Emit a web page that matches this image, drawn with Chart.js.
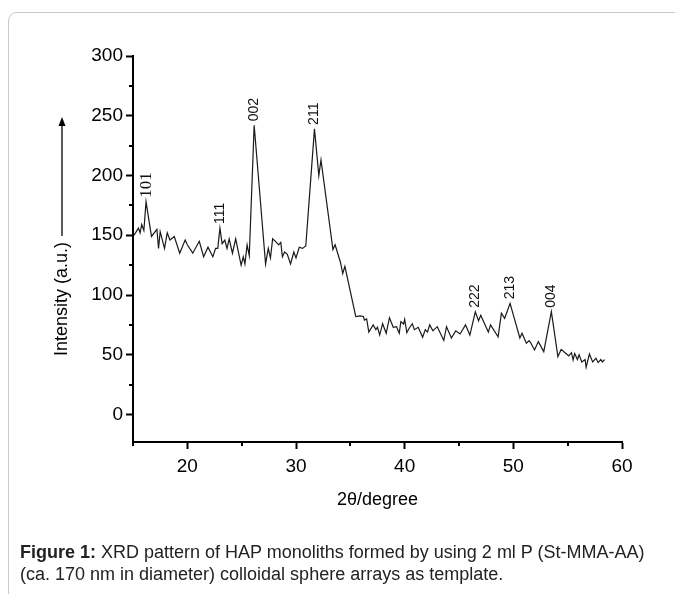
<!DOCTYPE html>
<html>
<head>
<meta charset="utf-8">
<script src="https://cdn.jsdelivr.net/npm/chart.js@4.4.1/dist/chart.umd.min.js"></script>
<style>
  html, body { margin: 0; padding: 0; background: #fff; }
  body { width: 675px; height: 594px; position: relative; overflow: hidden; }
  .frame {
    position: absolute; left: 8px; top: 12px; width: 720px; height: 640px;
    border: 1px solid #c9c9c9; border-radius: 9px;
  }
  #xrd { position: absolute; left: 0; top: 0; }
  .caption {
    position: absolute; left: 20px; top: 541px;
    font: 18px "Liberation Sans", Arial, sans-serif; line-height: 22px; color: #222;
    white-space: nowrap;
  }
</style>
</head>
<body>
<div class="frame"></div>
<canvas id="xrd" width="675" height="594"></canvas>
<div class="caption"><b>Figure 1:</b> XRD pattern of HAP monoliths formed by using 2 ml P (St-MMA-AA)<br>(ca. 170 nm in diameter) colloidal sphere arrays as template.</div>
<script>
// 2theta (degree) and intensity (a.u.)
const twoTheta = [
  15.1, 15.3, 15.5, 15.65, 15.8, 16.0, 16.2, 16.7, 17.2, 17.35, 17.5, 17.9, 18.15, 18.4, 18.8,
  19.3, 19.8, 20.0, 20.5, 21.1, 21.5, 21.9, 22.35, 22.6, 22.8, 23.0, 23.2, 23.45, 23.65, 23.85,
  24.15, 24.45, 24.95, 25.15, 25.3, 25.5, 25.7, 26.15, 27.2, 27.45, 27.65, 27.85, 28.2, 28.4, 28.6,
  28.75, 28.95, 29.2, 29.5, 29.8, 30.0, 30.3, 30.6, 30.9, 31.7, 32.1, 32.3, 33.4, 33.6, 34.1,
  34.3, 34.5, 35.0, 35.5, 35.9, 36.2, 36.3, 36.5, 36.7, 37.1, 37.35, 37.5, 37.7, 37.97, 38.3,
  38.6, 38.95, 39.25, 39.5, 39.65, 39.9, 40.0, 40.2, 40.4, 40.7, 40.9, 41.25, 41.65, 41.9, 42.1,
  42.3, 42.6, 43.0, 43.6, 43.85, 44.3, 44.7, 45.1, 45.6, 46.0, 46.5, 46.8, 47.0, 47.7, 47.9,
  48.6, 48.9, 49.2, 49.7, 50.6, 50.8, 51.2, 51.45, 51.6, 51.95, 52.3, 52.8, 53.5, 54.1, 54.4,
  54.9, 55.1, 55.35, 55.5, 55.65, 55.9, 56.05, 56.3, 56.6, 56.7, 57.0, 57.3, 57.6, 57.8, 58.05,
  58.2, 58.4
];
const intensity = [
  150, 153, 156, 152, 159, 154, 178, 149, 155, 139, 153, 139, 152, 146, 149,
  135, 146, 142, 135, 145, 132, 140, 132, 139, 139, 156, 143, 146, 139, 147,
  135, 147, 125, 132, 126, 142, 133, 242, 126, 139, 131, 147, 144, 142, 144,
  132, 136, 134, 126, 136, 131, 140, 139, 141, 239, 200, 213, 138, 142, 127,
  118, 124, 103, 82, 82.5, 82, 79, 80, 69, 75, 71, 73, 66.5, 76, 68,
  81, 73, 73.5, 68, 77.7, 75.7, 79.7, 68.5, 72, 76, 71, 73, 64.6, 71, 69,
  75, 70, 73.5, 62, 73.5, 64, 70, 67.4, 75, 66.5, 86, 78.5, 83, 69, 75,
  65, 84.7, 80.5, 93, 64, 68, 59.6, 61.8, 60, 54, 61, 52.6, 86, 48.4, 54.5,
  50.6, 49, 51.7, 45.6, 51, 46, 50, 44, 46, 39.5, 50.6, 44, 47, 43.5, 46,
  44, 46
];

// reflections (hkl) marked above their peaks
const peakNames = ['101', '111', '002', '211', '222', '213', '004'];
const peakAngles = [16.2, 23.0, 26.15, 31.7, 46.5, 49.7, 53.5];
const peakHeights = [178, 156, 242, 239, 86, 93, 86];
const peakSerif = [true, false, false, false, false, false, false];

const xTicks = [20, 30, 40, 50, 60];
const xMinorTicks = [15, 25, 35, 45, 55];
const yTicks = [0, 50, 100, 150, 200, 250, 300];
const yMinorTicks = [25, 75, 125, 175, 225, 275];

const sans = '"Liberation Sans", Arial, sans-serif';
const serif = '"Liberation Serif", "Times New Roman", serif';

const decor = {
  id: 'decor',
  afterDraw(chart) {
    const { ctx, chartArea } = chart;
    const xs = chart.scales.x;
    const ys = chart.scales.y;
    ctx.save();

    // minor ticks
    ctx.strokeStyle = '#000';
    ctx.lineWidth = 2;
    ctx.beginPath();
    xMinorTicks.forEach(v => {
      const px = Math.round(xs.getPixelForValue(v));
      ctx.moveTo(px, chartArea.bottom);
      ctx.lineTo(px, chartArea.bottom + 4);
    });
    yMinorTicks.forEach(v => {
      const py = Math.round(ys.getPixelForValue(v));
      ctx.moveTo(chartArea.left - 4, py);
      ctx.lineTo(chartArea.left, py);
    });
    ctx.stroke();

    // hkl labels
    ctx.fillStyle = '#111';
    ctx.textAlign = 'left';
    ctx.textBaseline = 'middle';
    peakNames.forEach((name, i) => {
      const px = xs.getPixelForValue(peakAngles[i]);
      const py = ys.getPixelForValue(peakHeights[i]);
      ctx.save();
      ctx.translate(px, py - 4);
      ctx.rotate(-Math.PI / 2);
      ctx.font = peakSerif[i] ? '17px ' + serif : '14px ' + sans;
      ctx.fillText(name, 0, 0);
      ctx.restore();
    });

    // x axis title
    ctx.font = '18px ' + sans;
    ctx.textAlign = 'center';
    ctx.textBaseline = 'middle';
    ctx.fillStyle = '#000';
    ctx.fillText('2\u03B8/degree', (chartArea.left + chartArea.right) / 2, chartArea.bottom + 58);

    // y axis title with arrow
    const tx = 62;
    const textBottom = 356;
    ctx.save();
    ctx.translate(tx, textBottom);
    ctx.rotate(-Math.PI / 2);
    ctx.textAlign = 'left';
    const label = 'Intensity (a.u.)';
    ctx.fillText(label, 0, 0);
    const w = ctx.measureText(label).width;
    const arrowEnd = textBottom - 117;
    ctx.lineWidth = 1.3;
    ctx.beginPath();
    ctx.moveTo(w + 6, 0);
    ctx.lineTo(arrowEnd - 6, 0);
    ctx.stroke();
    ctx.beginPath();
    ctx.moveTo(arrowEnd, 0);
    ctx.lineTo(arrowEnd - 9, -3.5);
    ctx.lineTo(arrowEnd - 9, 3.5);
    ctx.closePath();
    ctx.fill();
    ctx.restore();

    ctx.restore();
  }
};

const points = twoTheta.map((t, i) => ({ x: t, y: intensity[i] }));

new Chart(document.getElementById('xrd').getContext('2d'), {
  type: 'line',
  data: {
    datasets: [{
      data: points,
      borderColor: '#1a1a1a',
      borderWidth: 1.2,
      pointRadius: 0,
      tension: 0,
      fill: false
    }]
  },
  options: {
    responsive: false,
    animation: false,
    devicePixelRatio: 1,
    layout: { padding: { left: 0, top: 56, right: 53, bottom: 0 } },
    plugins: { legend: { display: false }, tooltip: { enabled: false } },
    scales: {
      x: {
        type: 'linear',
        min: 15,
        max: 60,
        afterBuildTicks: s => { s.ticks = xTicks.map(v => ({ value: v })); },
        afterFit: s => { s.height = 152; },
        grid: { drawOnChartArea: false, drawTicks: true, tickLength: 7, tickWidth: 2, tickColor: '#000' },
        border: { display: true, color: '#000', width: 2 },
        ticks: { color: '#000', padding: 6, font: { family: sans, size: 19 }, maxRotation: 0 }
      },
      y: {
        type: 'linear',
        min: -23,
        max: 300,
        afterBuildTicks: s => { s.ticks = yTicks.map(v => ({ value: v })); },
        afterFit: s => { s.width = 133; },
        grid: { drawOnChartArea: false, drawTicks: true, tickLength: 7, tickWidth: 2, tickColor: '#000' },
        border: { display: true, color: '#000', width: 2 },
        ticks: { color: '#000', padding: 3, font: { family: sans, size: 19 } }
      }
    }
  },
  plugins: [decor]
});
</script>
</body>
</html>
